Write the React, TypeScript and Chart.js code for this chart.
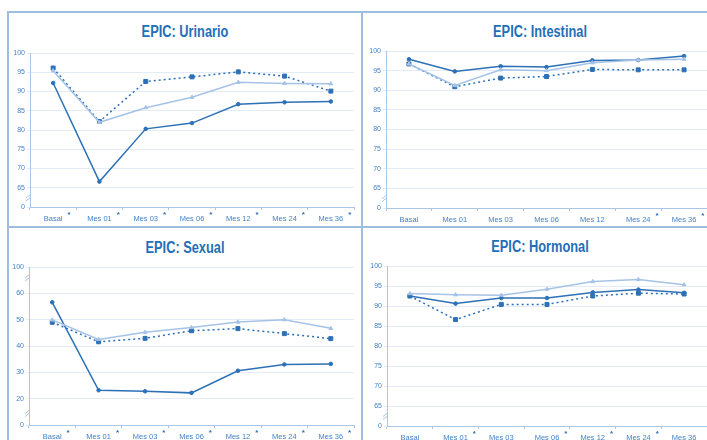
import React, { useEffect, useRef } from 'react';
import { Chart, registerables } from 'chart.js';

Chart.register(...registerables);

const categories = ['Basal', 'Mes 01', 'Mes 03', 'Mes 06', 'Mes 12', 'Mes 24', 'Mes 36'];

// significance marks (asterisk) per category
const urinarioSig = [true, true, true, true, true, true, true];
const intestinalSig = [false, false, false, false, false, true, true];
const sexualSig = [true, true, true, true, true, true, true];
const hormonalSig = [false, true, false, true, true, true, false];

const urinarioA = [92.2, 66.6, 80.3, 81.8, 86.7, 87.2, 87.4];
const urinarioB = [95.4, 82.0, 85.8, 88.5, 92.4, 92.1, 92.0];
const urinarioC = [96.1, 82.2, 92.6, 93.8, 95.1, 94.0, 90.1];

const intestinalA = [97.9, 94.8, 96.1, 95.9, 97.6, 97.7, 98.7];
const intestinalB = [96.7, 91.2, 95.2, 95.0, 97.0, 97.7, 97.9];
const intestinalC = [96.7, 90.9, 93.1, 93.5, 95.3, 95.2, 95.2];

const sexualA = [56.6, 23.2, 22.8, 22.2, 30.6, 33.0, 33.2];
const sexualB = [49.9, 42.5, 45.2, 47.0, 49.1, 50.0, 46.7];
const sexualC = [49.0, 41.6, 42.9, 45.8, 46.6, 44.7, 42.8];

const hormonalA = [92.5, 90.6, 92.0, 92.0, 93.4, 94.1, 93.3];
const hormonalB = [93.1, 92.8, 92.7, 94.2, 96.1, 96.6, 95.3];
const hormonalC = [92.5, 86.6, 90.4, 90.4, 92.5, 93.2, 93.0];

// y tick labels (broken axis)
const yTicksStd = ['0', '65', '70', '75', '80', '85', '90', '95', '100'];
const yTicksSexual = ['0', '20', '30', '40', '50', '60', '100'];

const DARK = '#2c70b6';
const LIGHT = '#a5c3e6';
const AXIS = '#a9c6e6';
const GRID = '#e2ebf6';
const TICK = '#4482c6';
const TITLE = '#1f6fb8';
const FONT = '"Liberation Sans", Arial, sans-serif';

const extrasPlugin = {
  id: 'extras',
  afterDraw(chart: any) {
    const opts = chart.options.plugins.extras || {};
    const breaks: number[][] = opts.breaks || [];
    const sig: boolean[] = opts.sig || [];
    const ys = chart.scales.y;
    const xs = chart.scales.x;
    const ctx = chart.ctx;
    ctx.save();
    // axis break marks
    ctx.strokeStyle = AXIS;
    ctx.lineWidth = 1;
    const ax = ys.right;
    breaks.forEach(([i, f]) => {
      const y0 = ys.getPixelForTick(i);
      const y1 = ys.getPixelForTick(i + 1);
      const y = y0 + (y1 - y0) * f;
      for (const d of [-1.5, 1.5]) {
        ctx.beginPath();
        ctx.moveTo(ax - 4, y + 2 + d);
        ctx.lineTo(ax + 1, y - 2 + d);
        ctx.stroke();
      }
    });
    // significance asterisks next to category labels
    ctx.fillStyle = DARK;
    ctx.font = 'bold 8px ' + FONT;
    ctx.textAlign = 'left';
    ctx.textBaseline = 'middle';
    const labelFont = '7.5px ' + FONT;
    categories.forEach((c, i) => {
      if (!sig[i]) return;
      ctx.font = labelFont;
      const w = ctx.measureText(c).width;
      ctx.font = 'bold 8px ' + FONT;
      const x = xs.getPixelForTick(i) + w / 2 + 5;
      const y = xs.top + 3 + 4 + 1;
      ctx.fillText('*', x, y);
    });
    ctx.restore();
  },
};

type PanelProps = {
  title: string;
  sig: boolean[];
  a: number[];
  b: number[];
  c: number[];
  yMin: number;
  yMax: number;
  step: number;
  yLabels: string[];
  breaks: number[][];
  left: number;
  top: number;
  width: number;
  height: number;
  yW: number;
  xH: number;
  padR: number;
  padT: number;
  titleX: number;
  titleY: number;
};

function Panel(p: PanelProps) {
  const ref = useRef<HTMLCanvasElement>(null);
  useEffect(() => {
    const chart = new Chart(ref.current as HTMLCanvasElement, {
      type: 'line',
      data: {
        labels: categories,
        datasets: [
          {
            data: p.b,
            borderColor: LIGHT,
            backgroundColor: LIGHT,
            borderWidth: 1.5,
            pointStyle: 'triangle',
            pointRadius: 2.2,
            pointBorderWidth: 1,
          },
          {
            data: p.c,
            borderColor: DARK,
            backgroundColor: DARK,
            borderWidth: 1.5,
            borderDash: [2, 3],
            pointStyle: 'rect',
            pointRadius: 2.8,
            pointBorderWidth: 1,
          },
          {
            data: p.a,
            borderColor: DARK,
            backgroundColor: DARK,
            borderWidth: 1.5,
            pointStyle: 'circle',
            pointRadius: 1.8,
            pointBorderWidth: 1,
          },
        ],
      },
      options: {
        animation: false,
        responsive: false,
        devicePixelRatio: 1,
        layout: { padding: { left: 0, right: p.padR, top: p.padT, bottom: 0 } },
        plugins: {
          legend: { display: false },
          tooltip: { enabled: false },
          title: { display: false },
          extras: { breaks: p.breaks, sig: p.sig },
        } as any,
        scales: {
          x: {
            type: 'category',
            offset: true,
            grid: { offset: true, drawOnChartArea: false, drawTicks: true, tickLength: 3, color: AXIS },
            border: { color: AXIS, width: 1 },
            ticks: {
              color: TICK,
              font: { family: FONT, size: 7.5 },
              padding: 4,
              maxRotation: 0,
              autoSkip: false,
            },
            afterFit: (s: any) => {
              s.height = p.xH;
            },
          },
          y: {
            type: 'linear',
            min: p.yMin,
            max: p.yMax,
            grid: { color: GRID, tickLength: 3, lineWidth: 1 },
            border: { color: AXIS, width: 1 },
            ticks: {
              stepSize: p.step,
              color: TICK,
              font: { family: FONT, size: 7 },
              padding: 2,
              callback: (_v: any, i: number) => p.yLabels[i],
            },
            afterFit: (s: any) => {
              s.width = p.yW;
            },
          },
        },
      },
      plugins: [extrasPlugin],
    });
    return () => chart.destroy();
  }, []);
  return (
    <>
      <div
        style={{
          position: 'absolute',
          left: p.titleX - 100,
          top: p.titleY - 10,
          width: 200,
          height: 20,
          lineHeight: '20px',
          textAlign: 'center',
          color: TITLE,
          fontFamily: FONT,
          fontWeight: 'bold',
          fontSize: 16,
          transform: 'scaleX(0.8)',
          whiteSpace: 'nowrap',
        }}
      >
        {p.title}
      </div>
      <canvas
        ref={ref}
        width={p.width}
        height={p.height}
        style={{ position: 'absolute', left: p.left, top: p.top, width: p.width, height: p.height }}
      />
    </>
  );
}

const line = (l: number, t: number, w: number, h: number) => (
  <div style={{ position: 'absolute', left: l, top: t, width: w, height: h, background: '#9dbde1' }} />
);

export default function App() {
  return (
    <div
      style={{
        position: 'fixed',
        left: 0,
        top: 0,
        width: 707,
        height: 440,
        overflow: 'hidden',
        background: '#ffffff',
      }}
    >
      {line(8, 11, 699, 2)}
      {line(7, 11, 2, 429)}
      {line(361, 11, 2, 429)}
      {line(8, 226, 699, 2)}
      <Panel
        title="EPIC: Urinario"
        sig={urinarioSig}
        a={urinarioA}
        b={urinarioB}
        c={urinarioC}
        yMin={60}
        yMax={100}
        step={5}
        yLabels={yTicksStd}
        breaks={[[0, 0.5]]}
        left={10}
        top={14}
        width={350}
        height={212}
        yW={20}
        xH={19}
        padR={6}
        padT={39}
        titleX={185}
        titleY={32}
      />
      <Panel
        title="EPIC: Intestinal"
        sig={intestinalSig}
        a={intestinalA}
        b={intestinalB}
        c={intestinalC}
        yMin={60}
        yMax={100}
        step={5}
        yLabels={yTicksStd}
        breaks={[[0, 0.5]]}
        left={364}
        top={14}
        width={352}
        height={212}
        yW={22}
        xH={18}
        padR={9}
        padT={37}
        titleX={540}
        titleY={32}
      />
      <Panel
        title="EPIC: Sexual"
        sig={sexualSig}
        a={sexualA}
        b={sexualB}
        c={sexualC}
        yMin={10}
        yMax={70}
        step={10}
        yLabels={yTicksSexual}
        breaks={[[0, 0.45], [5, 0.6]]}
        left={10}
        top={229}
        width={350}
        height={211}
        yW={19}
        xH={15}
        padR={6}
        padT={38}
        titleX={185}
        titleY={248}
      />
      <Panel
        title="EPIC: Hormonal"
        sig={hormonalSig}
        a={hormonalA}
        b={hormonalB}
        c={hormonalC}
        yMin={60}
        yMax={100}
        step={5}
        yLabels={yTicksStd}
        breaks={[[0, 0.5]]}
        left={364}
        top={229}
        width={352}
        height={211}
        yW={23}
        xH={14}
        padR={9}
        padT={37}
        titleX={540}
        titleY={247}
      />
    </div>
  );
}
